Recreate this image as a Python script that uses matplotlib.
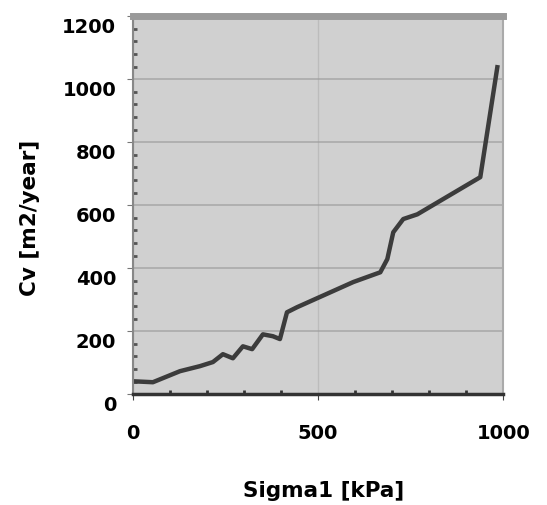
import matplotlib
matplotlib.use("Agg")
import matplotlib.pyplot as plt
import matplotlib.transforms as mtransforms
from matplotlib.ticker import MultipleLocator

# Sigma1 [kPa] vs Cv [m2/year]
sigma1 = [0, 54, 127, 181, 216, 243, 270, 297, 322, 351, 378, 397, 416, 443,
          595, 668, 687, 703, 730, 768, 938, 984]
cv = [41, 38, 73, 89, 102, 127, 114, 152, 143, 190, 184, 175, 260, 276,
      356, 387, 429, 514, 556, 571, 689, 1038]
xticks = [0, 500, 1000]
yticks = [0, 200, 400, 600, 800, 1000, 1200]

plt.rcParams['font.family'] = ['DejaVu Sans']

fig = plt.figure(figsize=(5.47, 5.06), dpi=100)
ax = fig.add_axes([0.243, 0.219, 0.677, 0.747])
ax.set_facecolor('#d0d0d0')

ax.plot(sigma1, cv, color='#3c3c3c', lw=3.2, solid_joinstyle='round')

ax.set_xlim(0, 1000)
ax.set_ylim(0, 1200)
ax.set_xticks(xticks)
ax.set_yticks(yticks)
ax.yaxis.set_minor_locator(MultipleLocator(40))
ax.xaxis.set_minor_locator(MultipleLocator(100))
ax.grid(axis='y', color='#9a9a9a', lw=1.2, alpha=0.7)
ax.grid(axis='x', color='#b0b0b0', lw=1, alpha=0.6)

for s in ax.spines.values():
    s.set_color('#888888')
    s.set_linewidth(1.5)
ax.spines['top'].set_linewidth(5)
ax.spines['top'].set_color('#9a9a9a')
ax.spines['right'].set_color('#aaaaaa')
ax.spines['bottom'].set_color('#333333')
ax.spines['bottom'].set_linewidth(2.5)

ax.tick_params(axis='y', length=4, color='#777777', pad=8, labelsize=14)
ax.tick_params(axis='x', length=4, color='#444444', pad=17, labelsize=14)
ax.tick_params(axis='y', which='minor', direction='in', length=3, width=2, color='#555555')
ax.tick_params(axis='x', which='minor', direction='in', length=3, width=2, color='#333333')
for lab in ax.get_xticklabels() + ax.get_yticklabels():
    lab.set_fontweight('bold')

# the y labels sit a little below their ticks in the original
off = mtransforms.ScaledTranslation(0, -6 / 72, fig.dpi_scale_trans)
for lab in ax.get_yticklabels():
    lab.set_transform(lab.get_transform() + off)

ax.set_xlabel('Sigma1 [kPa]', fontsize=15.5, fontweight='bold', va='center')
ax.set_ylabel('Cv [m2/year]', fontsize=15.5, fontweight='bold', va='center')
ax.xaxis.set_label_coords(0.514, -0.254)
ax.yaxis.set_label_coords(-0.278, 0.468)

fig.savefig('out.png', dpi=100)
